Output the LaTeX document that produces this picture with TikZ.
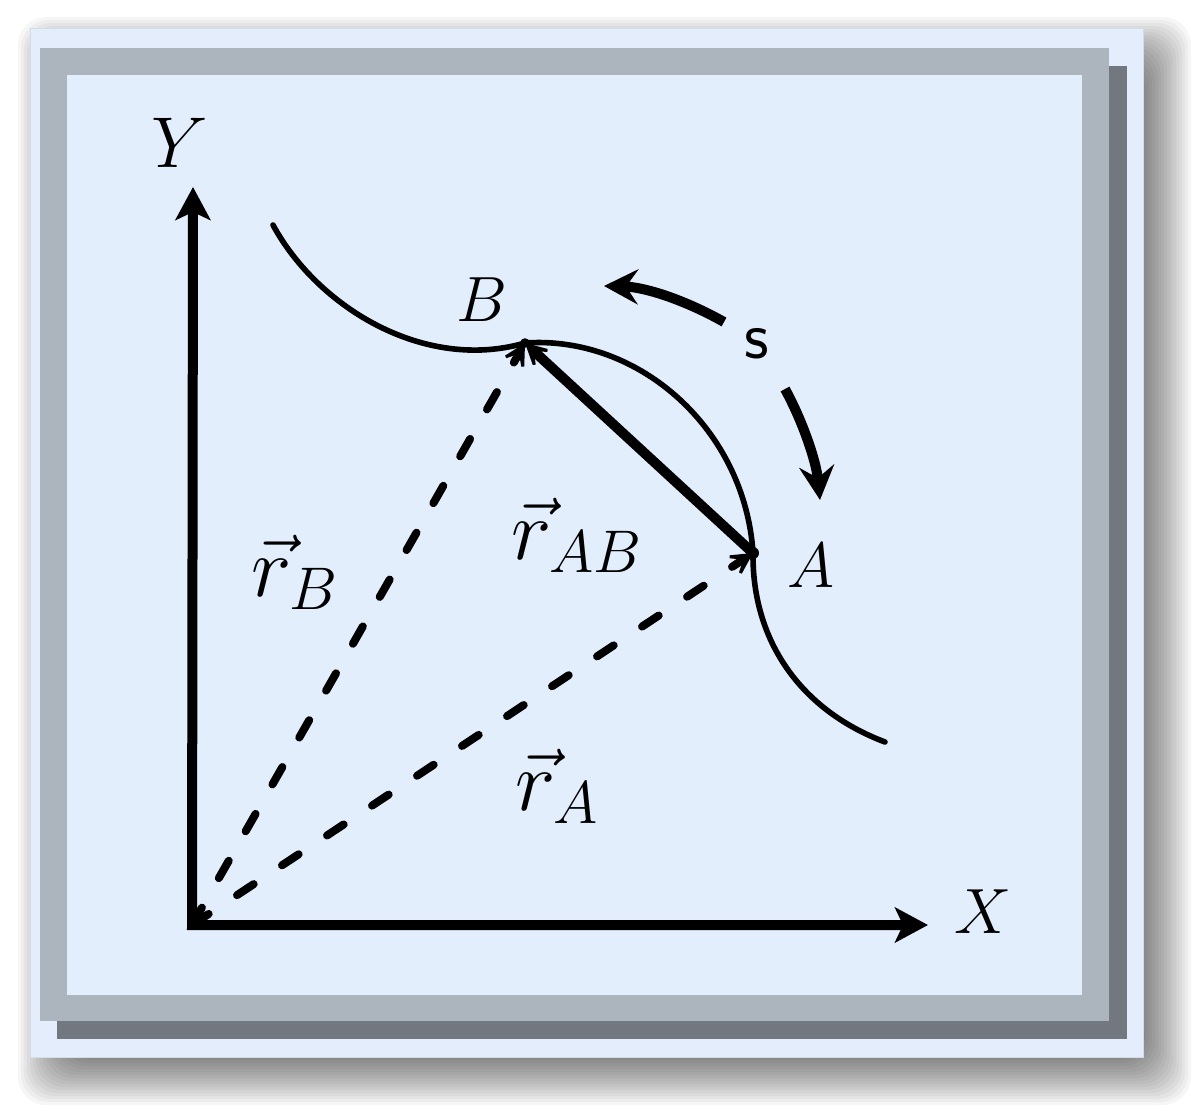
\RequirePackage{fix-cm}
\documentclass[tikz,border=0pt]{standalone}
\usepackage{fontspec}
\usetikzlibrary{arrows.meta}
\definecolor{panel}{HTML}{E3EDFB}
\definecolor{paneledge}{HTML}{D3DDEA}
\definecolor{frameg}{HTML}{ACB4BE}
\definecolor{frameshadow}{HTML}{73777F}
\definecolor{innerbg}{HTML}{E3EEFD}
\begin{document}
\begin{tikzpicture}[x=0.5pt,y=-0.5pt,
  axisline/.style={line width=5pt,{Stealth[length=16.5pt,width=17.5pt,inset=4pt]}-{Stealth[length=16.5pt,width=17.5pt,inset=4pt]}},
  vecdash/.style={line width=4pt,line cap=round,dash pattern=on 10pt off 17pt,-{Stealth[length=17pt,width=18pt,inset=11pt]}},
  chord/.style={line width=5pt,-{Stealth[length=17pt,width=18pt,inset=11pt]}},
  pathcurve/.style={line width=2.8pt,line cap=round},
  sarrow/.style={line width=5pt,-{Stealth[length=17pt,width=17.5pt,inset=6pt]}},
  biglbl/.style={font=\fontsize{32}{38}\selectfont, inner sep=0pt},
  veclbl/.style={font=\fontsize{43}{50}\selectfont, inner sep=0pt}]
\useasboundingbox (0,0) rectangle (1202,1117);
\fill[white] (0,0) rectangle (1202,1117);
% soft shadow of the panel
\foreach \e in {-18,-15,...,30} {
  \fill[black,opacity=0.036,rounded corners=14pt] ({48-\e},{47-\e}) rectangle ({1161+\e},{1075+\e});
}
% panel and frame
\fill[panel] (30,29) rectangle (1143,1057);
\draw[paneledge,line width=0.5pt] (30,29) rectangle (1143,1057);
\fill[frameshadow] (57,66) rectangle (1127,1039);
\fill[frameg] (40,48) rectangle (1109,1021);
\fill[innerbg] (67,75) rectangle (1082,995);

% points
\coordinate (O) at (192,925);
\coordinate (Yt) at (193,187);
\coordinate (Xt) at (928,925);
\coordinate (B) at (525,343);
\coordinate (A) at (753,553);
\coordinate (C0) at (273,225);
\coordinate (C1) at (885,742);
\coordinate (S1a) at (724,322);
\coordinate (S1b) at (604,286);
\coordinate (S2a) at (785,389);
\coordinate (S2b) at (820,500);

% axes
\draw[axisline,line join=miter] (Yt) -- (O) -- (Xt);
% curve
\draw[pathcurve] (C0) .. controls (318,308) and (425,372) .. (B)
  .. controls (640,335) and (745,430) .. (A)
  .. controls (752,640) and (800,710) .. (C1);
% position vectors
\draw[vecdash] (O) -- (B);
\draw[vecdash] (O) -- (A);
% displacement
\draw[chord] (A) -- (B);
\fill (A) circle (3pt);
\fill (B) circle (2.4pt);
% arc length arrows
\draw[sarrow] (S1a) .. controls (685,300) and (645,287) .. (S1b);
\draw[sarrow] (S2a) .. controls (802,420) and (816,460) .. (S2b);

% labels
\node[biglbl,font=\fontsize{36}{42}\selectfont] (ly) at (180,143) {$Y$};
\node[biglbl] (lx) at (983,912) {$X$};
\node[biglbl] (lb) at (482,300) {$B$};
\node[biglbl] (la) at (811,566) {$A$};
\node[biglbl,font=\fontsize{34}{40}\sffamily] (ls) at (757,344) {s};
\node[veclbl] (lrb) at (295,572) {$\vec{r}_B$};
\node[veclbl] (lrab) at (577,535) {$\vec{r}_{AB}$};
\node[veclbl] (lra) at (557,786) {$\vec{r}_A$};
\end{tikzpicture}
\end{document}
